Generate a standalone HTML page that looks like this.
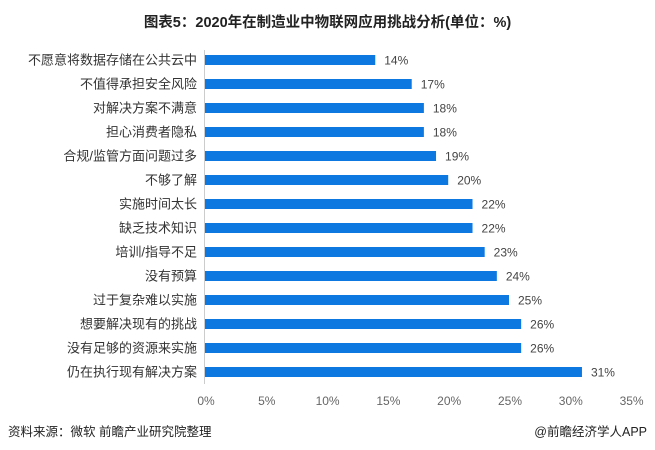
<!DOCTYPE html>
<html><head><meta charset="utf-8"><style>
body{margin:0;width:655px;height:450px;background:#fff;font-family:"Liberation Sans","Noto Sans CJK SC",sans-serif;position:relative;overflow:hidden}
.t{position:absolute;white-space:nowrap}
</style></head><body>
<div class="t" style="left:0;width:655px;top:11px;text-align:center;font-size:14.5px;font-weight:bold;color:#222">图表5：2020年在制造业中物联网应用挑战分析(单位：%)</div>
<svg width="655" height="450" style="position:absolute;left:0;top:0" font-family="Liberation Sans, Noto Sans CJK SC, sans-serif">
<line x1="204.5" y1="50" x2="204.5" y2="384" stroke="#ccc"/>
<g id="bars"></g>
</svg>
<script>
var d=[["不愿意将数据存储在公共云中",14],["不值得承担安全风险",17],["对解决方案不满意",18],["担心消费者隐私",18],["合规/监管方面问题过多",19],["不够了解",20],["实施时间太长",22],["缺乏技术知识",22],["培训/指导不足",23],["没有预算",24],["过于复杂难以实施",25],["想要解决现有的挑战",26],["没有足够的资源来实施",26],["仍在执行现有解决方案",31]];
var s='',u=12.16;
d.forEach(function(r,i){var y=60+i*24;var w=r[1]*u;
s+='<rect x="205" y="'+(y-5)+'" width="'+w+'" height="10" fill="#0c78e0"/>';
s+='<text x="197" y="'+(y+4.5)+'" font-size="13" fill="#333" text-anchor="end">'+r[0]+'</text>';
s+='<text x="'+(205+w+9)+'" y="'+(y+4.5)+'" font-size="12" fill="#444">'+r[1]+'%</text>';});
for(var k=0;k<=7;k++){s+='<text x="'+(206+k*5*u)+'" y="405" font-size="12" fill="#666" text-anchor="middle">'+(k*5)+'%</text>';}
document.getElementById('bars').innerHTML=s;
</script>
<div class="t" style="left:8px;top:421px;font-size:12.5px;color:#222">资料来源：微软 前瞻产业研究院整理</div>
<div class="t" style="right:8px;top:421px;font-size:12.5px;color:#222">@前瞻经济学人APP</div>
</body></html>
